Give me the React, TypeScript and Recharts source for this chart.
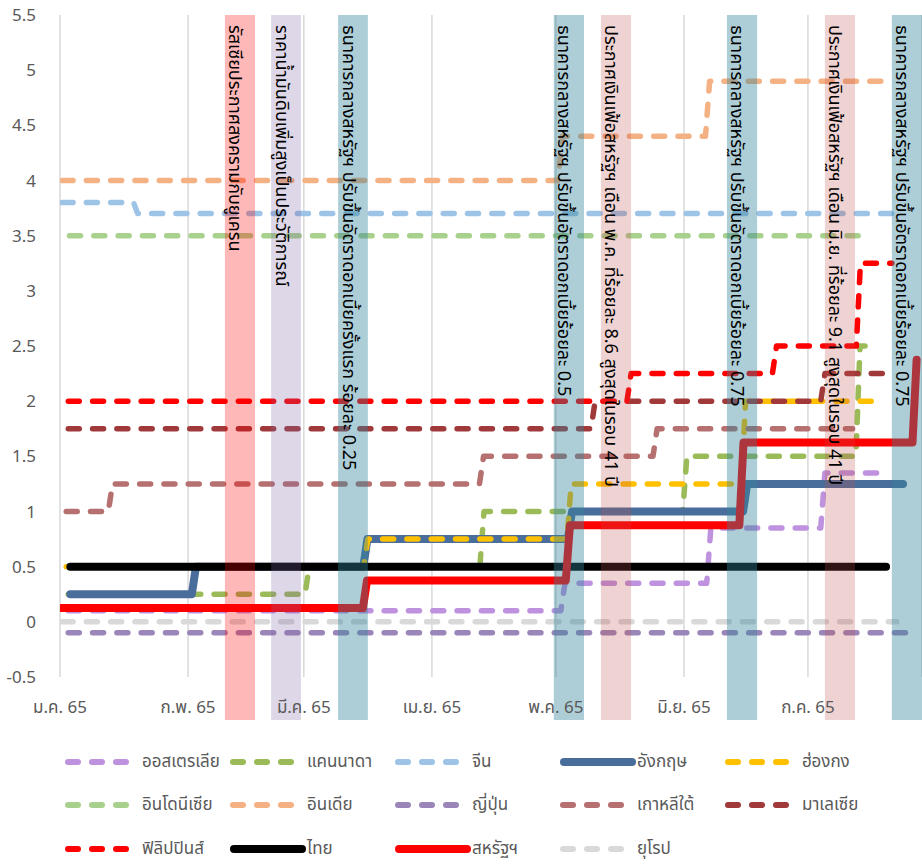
import { LineChart, Line, XAxis, YAxis, CartesianGrid, ReferenceArea } from 'recharts';

// day index counted from 1 Jan 65 (= 0)
const monthTicks = [0, 31, 59, 90, 120, 151, 181];
const monthLabels = ['ม.ค. 65', 'ก.พ. 65', 'มี.ค. 65', 'เม.ย. 65', 'พ.ค. 65', 'มิ.ย. 65', 'ก.ค. 65'];
const yTicks = [-0.5, 0, 0.5, 1, 1.5, 2, 2.5, 3, 3.5, 4, 4.5, 5, 5.5];

// [day the rate starts, rate]
const australiaSteps = [[2, 0.1], [122.2, 0.35], [157.5, 0.85], [185.1, 1.35]];
const canadaSteps = [[2, 0.25], [60.3, 0.5], [102.6, 1.0], [151.7, 1.5], [193.6, 2.5]];
const chinaSteps = [[0.5, 3.8], [18.8, 3.7]];
const ukSteps = [[2.5, 0.25], [32.9, 0.5], [74.4, 0.75], [123.9, 1.0], [166.3, 1.25]];
const hongkongSteps = [[1.5, 0.5], [74.5, 0.75], [123.7, 1.25], [165.9, 2.0]];
const indonesiaSteps = [[2.3, 3.5]];
const indiaSteps = [[0.5, 4.0], [121.5, 4.4], [157.2, 4.9]];
const japanSteps = [[2, -0.1]];
const koreaSteps = [[1.5, 1.0], [12.7, 1.25], [102.5, 1.5], [144.5, 1.75]];
const malaysiaSteps = [[2, 1.75], [129.5, 2.0], [185.1, 2.25]];
const philippinesSteps = [[2, 2.0], [138.2, 2.25], [173.4, 2.5], [193.7, 3.25]];
const thailandSteps = [[2.5, 0.5]];
const usSteps = [[0.3, 0.125], [74.3, 0.375], [123.4, 0.875], [165.4, 1.625], [207.3, 2.375]];
const europeSteps = [[0.5, 0]];

// last day drawn for each series
const seriesEnds = {
  australia: 199.6, canada: 194.8, china: 203, uk: 204, hongkong: 197, indonesia: 193.6,
  india: 199.2, japan: 204.7, korea: 191.8, malaysia: 200.8, philippines: 201.3,
  thailand: 199.9, us: 207.3, europe: 202.5,
};

const events = [
  { from: 39.9, to: 47.2, fill: 'rgba(255,0,0,0.28)', text: 'รัสเซียประกาศสงครามกับยูเครน' },
  { from: 51.1, to: 58.3, fill: 'rgba(128,100,162,0.26)', text: 'ราคาน้ำมันดิบเพิ่มสูงเป็นประวัติการณ์' },
  { from: 67.3, to: 74.5, fill: 'rgba(49,133,156,0.4)', text: 'ธนาคารกลางสหรัฐฯ ปรับขึ้นอัตราดอกเบี้ยครั้งแรก ร้อยละ 0.25' },
  { from: 119.5, to: 126.8, fill: 'rgba(49,133,156,0.4)', text: 'ธนาคารกลางสหรัฐฯ ปรับขึ้นอัตราดอกเบี้ยร้อยละ 0.5' },
  { from: 130.9, to: 138.2, fill: 'rgba(192,80,77,0.25)', text: 'ประกาศเงินเฟ้อสหรัฐฯ เดือน พ.ค. ที่ร้อยละ 8.6 สูงสุดในรอบ 41 ปี' },
  { from: 161.4, to: 168.7, fill: 'rgba(49,133,156,0.4)', text: 'ธนาคารกลางสหรัฐฯ ปรับขึ้นอัตราดอกเบี้ยร้อยละ 0.75' },
  { from: 185.1, to: 192.4, fill: 'rgba(192,80,77,0.25)', text: 'ประกาศเงินเฟ้อสหรัฐฯ เดือน มิ.ย. ที่ร้อยละ 9.1 สูงสุดในรอบ 41 ปี' },
  { from: 201.3, to: 208.6, fill: 'rgba(49,133,156,0.4)', text: 'ธนาคารกลางสหรัฐฯ ปรับขึ้นอัตราดอกเบี้ยร้อยละ 0.75' },
];

const series = [
  { name: 'ออสเตรเลีย', color: '#BF92DF', dashed: true, steps: australiaSteps, end: seriesEnds.australia },
  { name: 'แคนนาดา', color: '#9BBB59', dashed: true, steps: canadaSteps, end: seriesEnds.canada },
  { name: 'จีน', color: '#9DC3E6', dashed: true, steps: chinaSteps, end: seriesEnds.china },
  { name: 'อังกฤษ', color: '#4A6E9B', dashed: false, steps: ukSteps, end: seriesEnds.uk },
  { name: 'ฮ่องกง', color: '#FFC000', dashed: true, steps: hongkongSteps, end: seriesEnds.hongkong },
  { name: 'อินโดนีเซีย', color: '#A9D18E', dashed: true, steps: indonesiaSteps, end: seriesEnds.indonesia },
  { name: 'อินเดีย', color: '#F4B183', dashed: true, steps: indiaSteps, end: seriesEnds.india },
  { name: 'ญี่ปุ่น', color: '#9B86B9', dashed: true, steps: japanSteps, end: seriesEnds.japan },
  { name: 'เกาหลีใต้', color: '#B5706F', dashed: true, steps: koreaSteps, end: seriesEnds.korea },
  { name: 'มาเลเซีย', color: '#A0393A', dashed: true, steps: malaysiaSteps, end: seriesEnds.malaysia },
  { name: 'ฟิลิปปินส์', color: '#FF0000', dashed: true, steps: philippinesSteps, end: seriesEnds.philippines },
  { name: 'ไทย', color: '#000000', dashed: false, steps: thailandSteps, end: seriesEnds.thailand },
  { name: 'สหรัฐฯ', color: '#FF0000', dashed: false, steps: usSteps, end: seriesEnds.us },
  { name: 'ยุโรป', color: '#D9D9D9', dashed: true, steps: europeSteps, end: seriesEnds.europe },
];

const FONT = 'Tahoma, "Noto Sans Thai", "Noto Sans", sans-serif';

// each rate change takes one day to climb
function toPoints(steps: number[][], end: number) {
  const pts: { x: number; y: number }[] = [];
  steps.forEach(([day, v], i) => {
    if (i > 0) pts.push({ x: day - 1, y: steps[i - 1][1] });
    pts.push({ x: day, y: v });
  });
  const last = steps[steps.length - 1];
  if (end > last[0]) pts.push({ x: end, y: last[1] });
  return pts;
}

const EventBand = (props: any) => {
  const { x, y, width, height, fill, text } = props;
  const bx = x + 4.5;
  const by = 25;
  return (
    <g>
      <rect x={x} y={y} width={width} height={height} fill={fill} stroke="none" />
      <text
        x={bx}
        y={by}
        transform={`rotate(90 ${bx} ${by})`}
        fontSize={18}
        fontFamily={FONT}
        fill="#000"
      >
        {text}
      </text>
    </g>
  );
};

function Legend() {
  return (
    <div
      style={{
        position: 'absolute',
        top: 740,
        left: 65,
        display: 'grid',
        gridTemplateColumns: 'repeat(5, 165px)',
        gridAutoRows: '43.5px',
        fontFamily: FONT,
        fontSize: 17,
        color: '#595959',
      }}
    >
      {series.map((s) => (
        <div key={s.name} style={{ display: 'flex', alignItems: 'center' }}>
          <svg width={77} height={12} style={{ flex: 'none' }}>
            {s.dashed ? (
              <line x1={3} y1={6} x2={63} y2={6} stroke={s.color} strokeWidth={6} strokeDasharray="10 14" strokeLinecap="round" />
            ) : (
              <line x1={4} y1={6} x2={72} y2={6} stroke={s.color} strokeWidth={8} strokeLinecap="round" />
            )}
          </svg>
          <span style={{ whiteSpace: 'nowrap' }}>{s.name}</span>
        </div>
      ))}
    </div>
  );
}

export default function App() {
  return (
    <div style={{ position: 'absolute', left: 0, top: 0, width: 922, height: 865, background: '#fff' }}>
      <LineChart width={922} height={730} margin={{ top: 15, right: 0, left: 0, bottom: 13 }}>
        <CartesianGrid horizontal={false} stroke="#D9D9D9" strokeWidth={1.5} />
        <XAxis
          dataKey="x"
          type="number"
          domain={[0, 208.6]}
          ticks={monthTicks}
          tickFormatter={(v: number) => monthLabels[monthTicks.indexOf(v)]}
          axisLine={false}
          tickLine={false}
          tickSize={0}
          tickMargin={24}
          height={40}
          allowDataOverflow
          interval={0}
          tick={{ fill: '#595959', fontSize: 17, fontFamily: FONT }}
        />
        <YAxis
          type="number"
          domain={[-0.5, 5.5]}
          ticks={yTicks}
          axisLine={false}
          tickLine={false}
          tickSize={0}
          tickMargin={24}
          width={60}
          interval={0}
          tick={{ fill: '#595959', fontSize: 17, fontFamily: FONT }}
        />
        {series.map((s) => (
          <Line
            key={s.name}
            data={toPoints(s.steps, s.end)}
            dataKey="y"
            name={s.name}
            type="linear"
            stroke={s.color}
            strokeWidth={s.dashed ? 5.5 : 8}
            strokeDasharray={s.dashed ? '11 13.3' : undefined}
            strokeLinecap="round"
            strokeLinejoin="round"
            dot={false}
            activeDot={false}
            isAnimationActive={false}
          />
        ))}
        {events.map((e, i) => (
          <ReferenceArea
            key={i}
            x1={e.from}
            x2={e.to}
            y1={-0.89}
            y2={5.5}
            ifOverflow="visible"
            zIndex={900}
            shape={(p: any) => <EventBand {...p} fill={e.fill} text={e.text} />}
          />
        ))}
      </LineChart>
      <Legend />
    </div>
  );
}
